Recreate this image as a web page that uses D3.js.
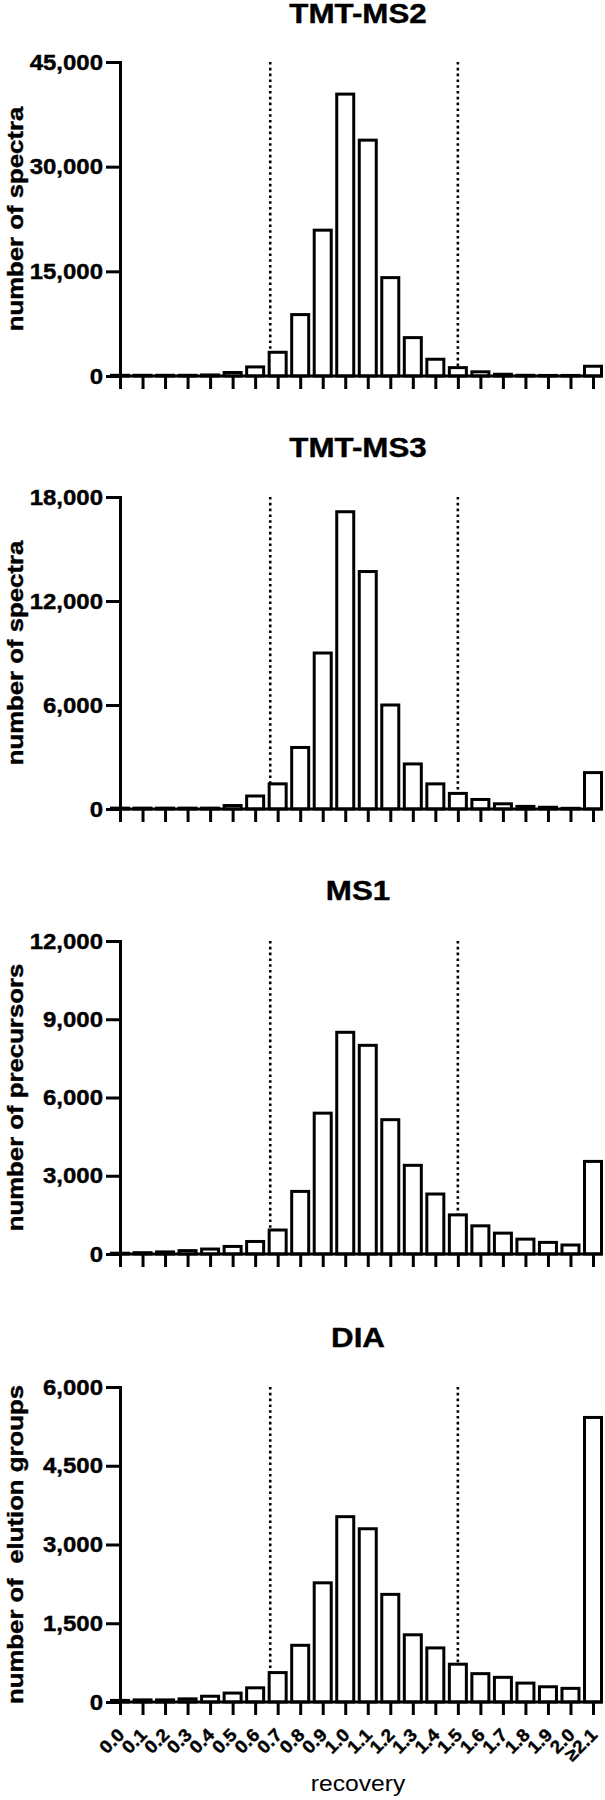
<!DOCTYPE html>
<html>
<head>
<meta charset="utf-8">
<script src="https://cdn.jsdelivr.net/npm/d3@7"></script>
<style>
  html, body { margin: 0; padding: 0; background: #fff; }
  svg { display: block; }
  text { font-family: "Liberation Sans", Arial, sans-serif; fill: #000; }
  text.bold { font-weight: bold; stroke: #000; stroke-width: 0.4px; }
</style>
</head>
<body>
<div id="chart"></div>
<script>
// ---------------- data ----------------
const categories = ["0.0","0.1","0.2","0.3","0.4","0.5","0.6","0.7","0.8","0.9","1.0",
                    "1.1","1.2","1.3","1.4","1.5","1.6","1.7","1.8","1.9","2.0","≥2.1"];

const tmtMs2Values = [100, 100, 100, 100, 150, 500, 1300, 3400, 8800, 20900, 40400,
                      33800, 14100, 5500, 2400, 1200, 600, 250, 100, 80, 80, 1400];
const tmtMs3Values = [50, 50, 50, 50, 50, 200, 750, 1450, 3550, 9000, 17150,
                      13700, 6000, 2600, 1450, 900, 550, 300, 150, 100, 40, 2100];
const ms1Values    = [30, 50, 80, 130, 190, 290, 480, 920, 2400, 5400, 8500,
                      8000, 5150, 3400, 2300, 1500, 1080, 800, 570, 445, 345, 3550];
const diaValues    = [30, 40, 40, 60, 110, 170, 270, 560, 1080, 2270, 3530,
                      3300, 2050, 1280, 1030, 720, 540, 470, 360, 290, 260, 5420];

const panelTitles  = ["TMT-MS2", "TMT-MS3", "MS1", "DIA"];
const yAxisTitles  = ["number of spectra", "number of spectra", "number of precursors", "number of  elution groups"];
const yMaxima      = [45000, 18000, 12000, 6000];
const yTickValues  = [[0, 15000, 30000, 45000], [0, 6000, 12000, 18000],
                      [0, 3000, 6000, 9000, 12000], [0, 1500, 3000, 4500, 6000]];
const cutoffLines  = [0.667, 1.5];   // recovery thresholds (dotted)
const recoveryDomain = [0, 2.1];
const xAxisTitle   = "recovery";

const seriesValues = [tmtMs2Values, tmtMs3Values, ms1Values, diaValues];

// ---------------- layout ----------------
const W = 605, H = 1800;
const axisX = 120, lastX = 593;
const plotTops  = [62, 497, 941, 1387];
const plotZeros = [376, 809, 1254, 1702];
const titleYs   = [23, 457, 900, 1347];
const titleX = 358;
const barW = 17;
const STROKE = 3;

const svg = d3.select("#chart").append("svg").attr("width", W).attr("height", H);

const x = d3.scalePoint().domain(categories).range([axisX, lastX]);
const xVal = d3.scaleLinear().domain(recoveryDomain).range([axisX, lastX]);

function stretchText(sel, tx, ty, sx, extra) {
  sel.attr("x", 0).attr("y", 0)
     .attr("transform", `translate(${tx},${ty}) ${extra || ""} scale(${sx},1)`);
}

seriesValues.forEach((vals, p) => {
  const top = plotTops[p], zero = plotZeros[p];
  const y = d3.scaleLinear().domain([0, yMaxima[p]]).range([zero, top]);
  const g = svg.append("g");

  // panel title
  g.append("text").attr("class", "bold").attr("text-anchor", "middle")
    .style("font-size", "27px")
    .text(panelTitles[p]).call(stretchText, titleX, titleYs[p], 1.16);

  // y-axis title
  g.append("text").attr("class", "bold").attr("text-anchor", "middle")
    .style("font-size", "23px")
    .style("white-space", "pre").attr("xml:space", "preserve")
    .text(yAxisTitles[p]).call(stretchText, 23, (top + zero) / 2, 1.12, "rotate(-90)");

  // dotted cutoff lines
  g.selectAll("line.cut").data(cutoffLines).join("line").attr("class", "cut")
    .attr("x1", d => xVal(d)).attr("x2", d => xVal(d))
    .attr("y1", top).attr("y2", zero)
    .attr("stroke", "#000").attr("stroke-width", 2.6).attr("stroke-dasharray", "2.6,3.2");

  // bars
  g.selectAll("rect.bar").data(vals).join("rect").attr("class", "bar")
    .attr("x", (d, i) => x(categories[i]) - barW / 2).attr("width", barW)
    .attr("y", d => y(d)).attr("height", d => zero - y(d))
    .attr("fill", "#fff").attr("stroke", "#000").attr("stroke-width", STROKE);

  // x-axis baseline
  g.append("line").attr("x1", axisX).attr("x2", lastX + barW / 2 + 1)
    .attr("y1", zero).attr("y2", zero).attr("stroke", "#000").attr("stroke-width", STROKE);

  // x-axis ticks
  const gx = g.append("g").attr("transform", `translate(0,${zero})`)
    .call(d3.axisBottom(x).tickSize(13).tickSizeOuter(0));
  gx.select(".domain").remove();
  gx.selectAll(".tick line").attr("stroke", "#000").attr("stroke-width", STROKE);
  if (p === seriesValues.length - 1) {
    gx.selectAll(".tick text").attr("class", "bold").attr("dy", 0)
      .style("font-size", "18px").style("text-anchor", "end")
      .each(function() { d3.select(this).call(stretchText, 5, 34, 1.06, "rotate(-45)"); });
  } else {
    gx.selectAll(".tick text").remove();
  }

  // y axis
  const gy = g.append("g").attr("transform", `translate(${axisX},0)`)
    .call(d3.axisLeft(y).tickValues(yTickValues[p]).tickSize(14).tickPadding(3)
      .tickSizeOuter(0).tickFormat(d3.format(",")));
  gy.select(".domain").attr("stroke", "#000").attr("stroke-width", STROKE)
    .attr("stroke-linecap", "square");
  gy.selectAll(".tick line").attr("stroke", "#000").attr("stroke-width", STROKE);
  gy.selectAll(".tick text").attr("class", "bold")
    .style("font-size", "22px")
    .each(function() { d3.select(this).call(stretchText, -17, 0, 1.09); });
  gy.attr("font-family", null).attr("font-size", null);
  gx.attr("font-family", null).attr("font-size", null);
});

// x-axis title
svg.append("text").attr("text-anchor", "middle").style("font-size", "22px")
  .text(xAxisTitle).call(stretchText, 358, 1791, 1.12);
</script>
</body>
</html>
